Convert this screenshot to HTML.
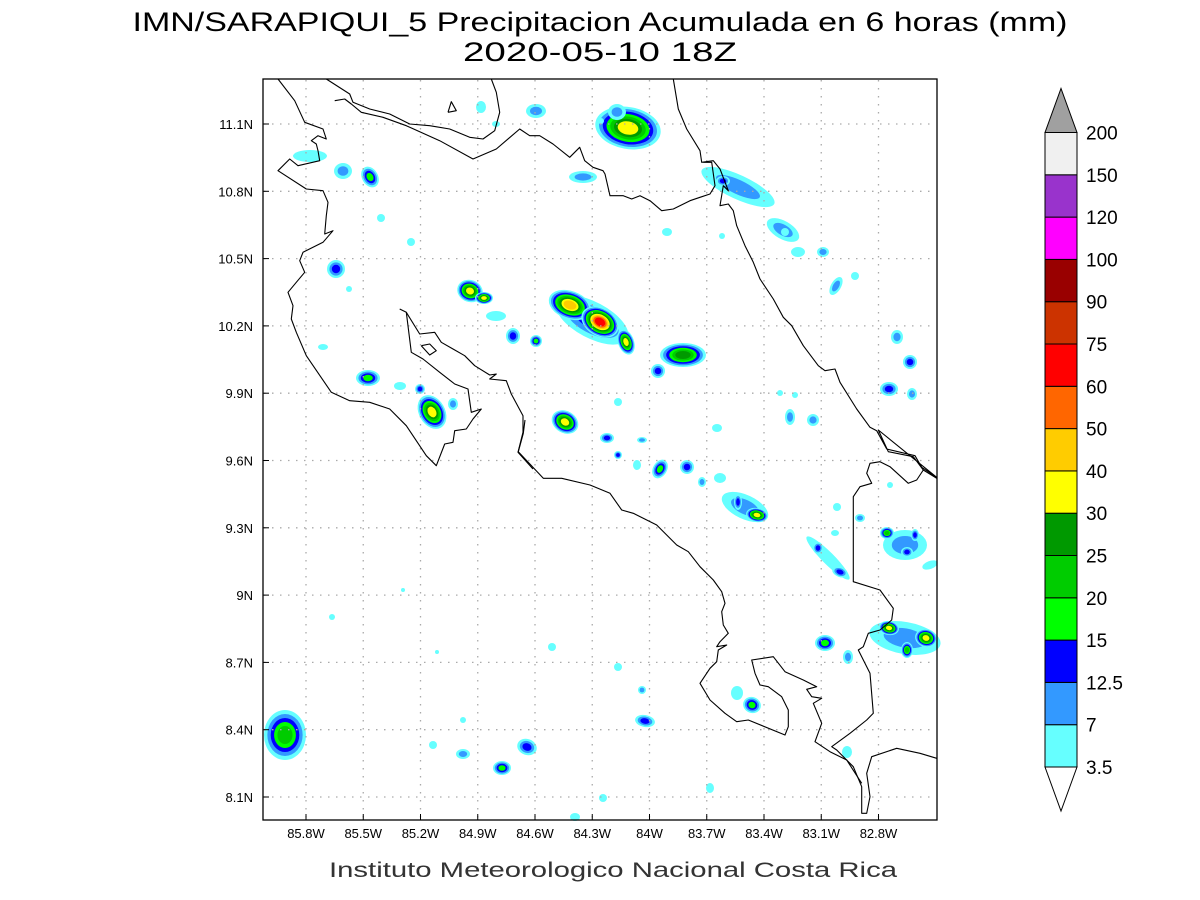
<!DOCTYPE html>
<html><head><meta charset="utf-8"><style>html,body{margin:0;padding:0;background:#fff}svg{display:block}</style></head>
<body>
<svg id="s" width="1200" height="900" viewBox="0 0 1200 900" xmlns="http://www.w3.org/2000/svg" font-family="Liberation Sans, sans-serif">
<rect width="1200" height="900" fill="#fff"/>
<text x="600" y="31" font-size="27" text-anchor="middle" textLength="935" lengthAdjust="spacingAndGlyphs" fill="#000">IMN/SARAPIQUI_5 Precipitacion Acumulada en 6 horas (mm)</text>
<text x="600" y="61" font-size="27" text-anchor="middle" textLength="274" lengthAdjust="spacingAndGlyphs" fill="#000">2020-05-10 18Z</text>
<g id="blobs"></g>
<g id="grid" stroke="#aaa" stroke-width="1.3" stroke-dasharray="1.5,6.5" fill="none"></g>
<g fill="none" stroke="#000" stroke-width="1.1" stroke-linejoin="round" id="coast"></g>
<rect x="263" y="79" width="674" height="741" fill="none" stroke="#000" stroke-width="1.3"/>
<g id="labels" font-size="13" fill="#000"></g>
<g id="cbar"></g>
<text x="613" y="877" font-size="21" text-anchor="middle" textLength="568" lengthAdjust="spacingAndGlyphs" fill="#333">Instituto Meteorologico Nacional Costa Rica</text>
</svg>
<script>
var NS="http://www.w3.org/2000/svg";
function el(p,t,a){var e=document.createElementNS(NS,t);for(var k in a)e.setAttribute(k,a[k]);p.appendChild(e);return e;}
var g=document.getElementById('grid'),lab=document.getElementById('labels'),co=document.getElementById('coast'),bl=document.getElementById('blobs'),cb=document.getElementById('cbar');
var xl=['85.8W','85.5W','85.2W','84.9W','84.6W','84.3W','84W','83.7W','83.4W','83.1W','82.8W'];
for(var k=0;k<11;k++){var x=306+57.25*k;el(g,'line',{x1:x,y1:80,x2:x,y2:819});var t=el(lab,'text',{x:x,y:838,'text-anchor':'middle'});t.textContent=xl[k];el(lab,'line',{x1:x,y1:820,x2:x,y2:814,stroke:'#000'});}
var yl=['11.1N','10.8N','10.5N','10.2N','9.9N','9.6N','9.3N','9N','8.7N','8.4N','8.1N'];
for(var k=0;k<11;k++){var y=124+67.3*k;el(g,'line',{x1:264,y1:y,x2:936,y2:y});var t=el(lab,'text',{x:253,y:y+5,'text-anchor':'end'});t.textContent=yl[k];el(lab,'line',{x1:263,y1:y,x2:269,y2:y,stroke:'#000'});}
function Z(ox,oy,pts){var s='';for(var i=0;i<pts.length;i+=2){s+=(i?'L':'M')+(pts[i]/3+ox).toFixed(1)+' '+(pts[i+1]/3+oy).toFixed(1);}return s;}
function P(d){el(co,'path',{d:d});}
P(Z(263,79,[45,0,95,65,125,130,180,150,190,180,165,170,145,185,160,195,165,215,170,245,105,260,80,240,45,275,130,330,180,335,195,370,190,410,185,465,210,455,180,490,120,520,110,545,125,580,100,610,75,640,90,680,85,720,100,760,130,830,205,940,260,965,320,970,380,990,430,1040,490,1130,520,1160,545,1095,570,1090,575,1055,610,1050,630,1020,655,990,625,1000,615,930,575,915,530,880,480,840,445,820,430,700,410,690]));
P(Z(263,79,[430,700,470,765,515,760,535,790,570,810,605,830,635,860,680,888,700,885,680,900,730,905,745,945,780,1010,780,1060,765,1120,810,1170]));
P(Z(263,79,[475,800,500,795,520,815,500,828,475,800]));
P(Z(263,79,[555,100,565,68,580,95,555,100]));
P(Z(263,79,[190,0,260,45,270,70,320,90,380,105,440,135,500,140,560,150,620,175,660,180,695,155,710,100,700,40,685,0]));
P(Z(263,79,[215,65,245,60,265,75,295,100,360,115,430,140,530,185,630,240,700,210,770,150,800,170,830,170,870,195,920,235,950,205,965,245,990,265,1020,275])+' '+Z(600,79,[15,285,30,350,70,350,95,360,120,350,150,365,185,395,220,390,270,365,300,355,330,345,345,320,335,250,310,250]).replace('M','L'));
P(Z(600,79,[220,0,235,90,260,150,300,215,305,250,340,245,360,270,385,335,370,320,360,380,385,375,400,395,410,440,435,500,460,550,480,600,520,660,550,715,575,740,610,800,655,860,675,875,705,870,720,910,770,990,810,1045,830,1055,860,1110,945,1130,965,1165,1010,1195])+' '+Z(500,420,[1135,30,1165,95,1240,110,1270,150,1310,175]).replace('M','L'));
P(Z(500,420,[1270,150,1250,180,1225,190,1170,140,1140,125,1110,130,1100,160,1115,190,1080,200,1060,230,1060,485,1140,510,1180,565,1175,600,1140,630,1105,640,1090,680,1075,690,1110,760,1120,880,1100,900,1050,940,995,980,1010,990,1060,1040,1085,1100,1085,1180,1100,1180,1110,1130,1100,1060,1115,1010,1190,985,1260,1000,1310,1015]));
P(Z(500,420,[75,0,70,40,55,95,130,175,185,175,270,195,330,220,365,270,400,280,470,315,530,375,565,395,600,440,640,480,665,515,675,550,665,575,670,615,685,640,660,665,650,680,680,675,655,690,650,725,630,745,600,790,630,840,675,880,710,905,745,900,855,945,865,920,865,870,845,830,805,800,780,795,765,760,755,720,820,710,855,755,910,780,950,800,920,808,935,830,965,835,940,850,965,910,945,965,990,995,1040,1020,1085,1090]));
var C=['#66ffff','#3399ff','#0000ff','#00ff00','#00cc00','#009900','#ffff00','#ffcc00','#ff6600','#ff0000'];
var B=[[628,128,33,21,10,7],[617,112,9,8,0,2],[738,187,40,12,25,2],[723,181,7,5,0,3],[783,230,18,9,30,2],[667,232,5,4,0,1],[722,236,3,3,0,1],[785,232,4,4,0,1],[798,252,7,5,0,1],[823,252,6,5,0,2],[836,286,5,10,30,2],[855,276,4,4,0,1],
[370,177,8,11,-30,4],[343,171,9,8,0,2],[336,269,9,9,0,3],[310,156,17,6,0,1],[349,289,3,3,0,1],[381,218,4,4,0,1],[411,242,4,4,0,1],[481,107,5,6,0,1],[536,111,10,7,0,2],[496,124,4,3,0,1],[583,177,14,6,0,2],[601,121,3,3,0,1],[323,347,5,3,0,1],[332,617,3,3,0,1],
[470,291,13,11,20,7],[484,298,9,6,0,7],[496,316,10,5,0,1],[513,336,7,8,0,3],[536,341,6,6,0,4],
[592,320,40,18,28,3],[570,305,22,14,20,8],[600,322,20,14,30,10],[626,342,8,13,-20,7],[683,355,23,12,0,6],[658,371,7,7,0,3],
[897,337,6,7,0,2],[910,362,7,7,0,3],[889,389,9,7,0,3],[912,394,5,6,0,2],[790,417,5,8,0,2],[813,420,6,6,0,2],[780,393,3,3,0,1],[795,395,3,3,0,1],[717,428,5,4,0,1],[618,402,4,4,0,1],
[368,378,12,8,0,4],[400,386,6,4,0,1],[420,389,5,5,0,3],[432,412,13,18,-30,7],[453,404,5,6,0,2],[565,422,14,11,30,7],
[607,438,7,5,0,3],[642,440,5,3,0,2],[618,455,4,4,0,3],[637,465,4,5,0,1],[660,469,7,10,30,4],[687,467,7,7,30,3],[702,482,4,5,0,2],[720,478,6,5,0,1],
[745,507,25,12,25,2],[738,502,4,8,0,3],[757,515,11,7,10,7],
[828,558,30,6,45,1],[818,548,5,6,0,3],[840,572,8,5,20,3],[890,485,3,3,0,1],[837,507,4,4,0,1],[860,518,5,4,0,2],[835,533,4,3,0,1],
[905,545,22,15,0,2],[887,533,7,6,0,5],[915,535,4,6,0,3],[907,552,6,5,0,3],[930,565,8,4,-20,1],
[905,638,36,16,10,2],[889,628,10,7,10,7],[926,638,11,9,15,7],[907,650,6,8,0,5],[825,643,10,8,0,4],[848,657,5,7,0,2],[847,752,5,6,0,1],
[752,705,9,8,20,4],[737,693,6,7,0,1],[645,721,10,6,10,3],[642,690,4,4,0,2],[527,747,10,8,20,3],[502,768,9,7,0,4],[618,667,4,4,0,1],[552,647,4,4,0,1],[710,788,4,5,0,1],[603,798,4,4,0,1],[575,817,5,4,0,1],
[285,735,21,25,0,5],[433,745,4,4,0,1],[463,754,7,5,0,2],[463,720,3,3,0,1],[403,590,2,2,0,1],[437,652,2,2,0,1]];
B.forEach(function(b){var n=b[5];for(var i=0;i<n;i++){var f=1-i*0.8/n;el(bl,'ellipse',{cx:b[0],cy:b[1],rx:Math.max(1.5,b[2]*f),ry:Math.max(1.5,b[3]*f),fill:C[i],transform:'rotate('+b[4]+' '+b[0]+' '+b[1]+')'});}});
var cc=['#66ffff','#3399ff','#0000ff','#00ff00','#00cc00','#009900','#ffff00','#ffcc00','#ff6600','#ff0000','#cc3300','#990000','#ff00ff','#9933cc','#f0f0f0'];
var cl=['3.5','7','12.5','15','20','25','30','40','50','60','75','90','100','120','150','200'];
var y0=767,h=42.3;
for(var i=0;i<15;i++){el(cb,'rect',{x:1045,y:y0-h*(i+1),width:32,height:h,fill:cc[i],stroke:'#000','stroke-width':1});}
for(var i=0;i<16;i++){var t=el(cb,'text',{x:1086,y:y0-h*i+7,'font-size':19,fill:'#000'});t.textContent=cl[i];}
var ytop=y0-h*15;
el(cb,'polygon',{points:'1045,'+ytop+' 1077,'+ytop+' 1061,'+(ytop-44),fill:'#a0a0a0',stroke:'#000'});
el(cb,'polygon',{points:'1045,767 1077,767 1061,811',fill:'#fff',stroke:'#000'});
</script>
</body></html>
